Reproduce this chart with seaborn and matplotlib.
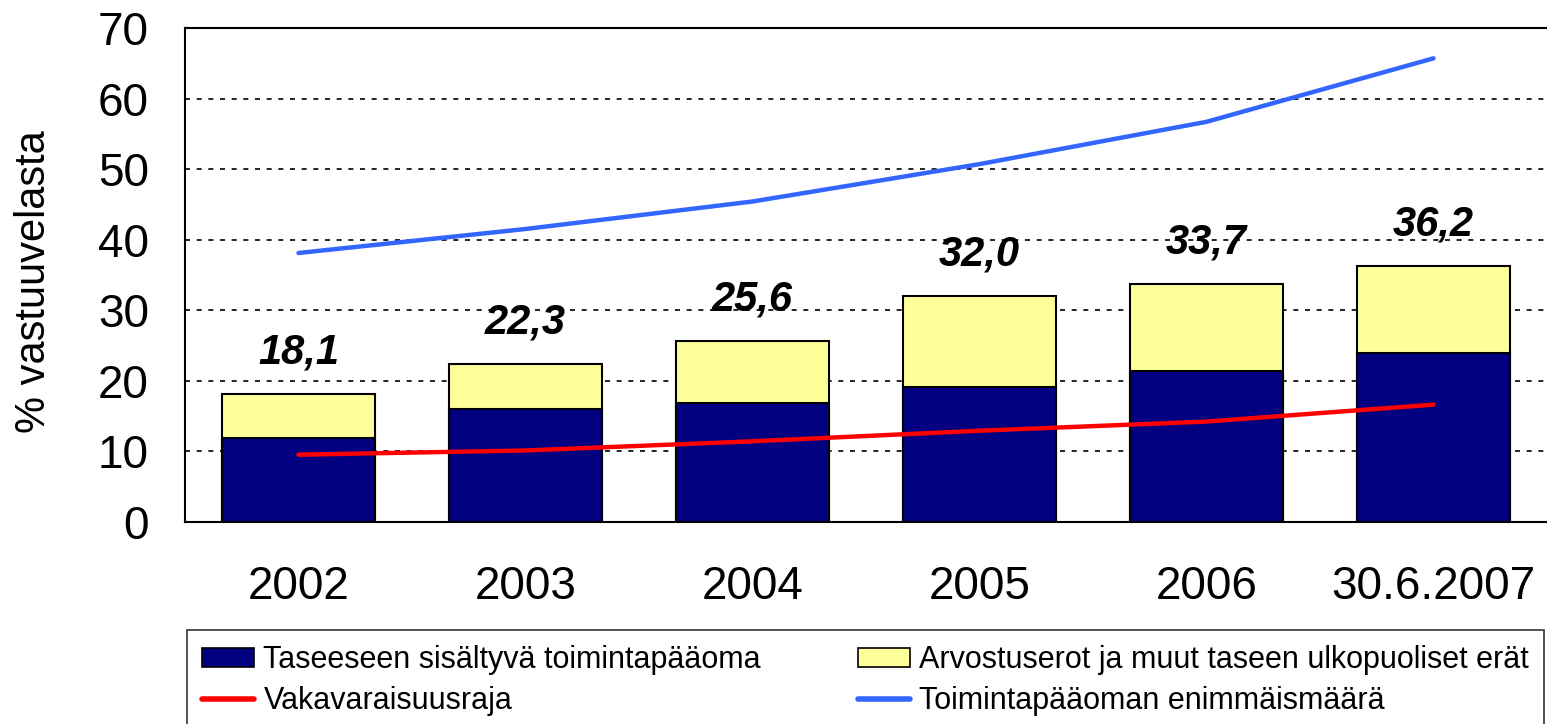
import numpy as np
import matplotlib
matplotlib.use("Agg")
import matplotlib.pyplot as plt
from matplotlib.patches import Patch
from matplotlib.lines import Line2D
import seaborn as sns

categories = ["2002", "2003", "2004", "2005", "2006", "30.6.2007"]
balance_capital = [11.9, 16.0, 16.9, 19.1, 21.3, 23.9]
total_capital = [18.1, 22.3, 25.6, 32.0, 33.7, 36.2]
total_labels = ["18,1", "22,3", "25,6", "32,0", "33,7", "36,2"]
solvency_limit = [9.5, 10.1, 11.4, 12.9, 14.2, 16.6]
capital_max = [38.1, 41.5, 45.4, 50.7, 56.7, 65.7]

legend_labels = [
    "Taseeseen sisältyvä toimintapääoma",
    "Arvostuserot ja muut taseen ulkopuoliset erät",
    "Vakavaraisuusraja",
    "Toimintapääoman enimmäismäärä",
]
y_ticks = [0, 10, 20, 30, 40, 50, 60, 70]

NAVY = "#000080"
YELLOW = "#FFFF99"
RED = "#FF0000"
BLUE = "#3366FF"

sns.set_theme(style="white")
plt.rcParams["font.family"] = ["Liberation Sans", "DejaVu Sans"]
plt.rcParams["text.color"] = "black"
plt.rcParams["axes.labelcolor"] = "black"
plt.rcParams["xtick.color"] = "black"
plt.rcParams["ytick.color"] = "black"

fig = plt.figure(figsize=(15.47, 7.24), dpi=100)
ax = fig.add_axes([185 / 1547, 1 - 521.7 / 724, 1 - 185 / 1547, (521.7 - 28) / 724])

x = np.arange(len(categories))
sns.barplot(x=categories, y=total_capital, color=YELLOW, saturation=1, width=0.67,
            edgecolor="black", linewidth=1.5, ax=ax, zorder=2)
sns.barplot(x=categories, y=balance_capital, color=NAVY, saturation=1, width=0.67,
            edgecolor="black", linewidth=1.5, ax=ax, zorder=3)
sns.lineplot(x=x, y=solvency_limit, color=RED, linewidth=3.2, ax=ax, zorder=4,
             solid_capstyle="round")
sns.lineplot(x=x, y=capital_max, color=BLUE, linewidth=3.2, ax=ax, zorder=4,
             solid_capstyle="round")

for xi, val, lab in zip(x, total_capital, total_labels):
    ax.annotate(lab, (xi, val), xytext=(0, 30), textcoords="offset points",
                ha="center", va="center", fontsize=30, fontweight="bold",
                fontstyle="italic", color="black", zorder=5)

ax.set_xlim(-0.5, len(categories) - 0.5)
ax.set_ylim(0, 70)
ax.set_yticks(y_ticks)
ax.set_yticklabels([str(t) for t in y_ticks])
ax.tick_params(axis="y", length=0, pad=26, labelsize=33, labelcolor="black")
ax.tick_params(axis="x", length=0, pad=31, labelsize=33, labelcolor="black")
ax.set_xlabel("")
ax.set_ylabel("% vastuuvelasta", fontsize=30, color="black")
ax.yaxis.set_label_coords((54 - 185) / 1362, 0.486)

ax.yaxis.grid(True, color="black", linestyle=(0, (3, 4)), linewidth=1.2)
ax.set_axisbelow(True)
for side in ["left", "bottom", "top"]:
    ax.spines[side].set_visible(True)
    ax.spines[side].set_color("black")
    ax.spines[side].set_linewidth(1.5)
ax.spines["right"].set_visible(False)

handles = [
    Patch(facecolor=NAVY, edgecolor="black", linewidth=1.2),
    Line2D([0], [0], color=RED, linewidth=4, solid_capstyle="round"),
    Patch(facecolor=YELLOW, edgecolor="black", linewidth=1.2),
    Line2D([0], [0], color=BLUE, linewidth=4, solid_capstyle="round"),
]
labels = [legend_labels[0], legend_labels[2], legend_labels[1], legend_labels[3]]
leg = fig.legend(handles, labels, ncol=2, loc="upper left",
                 bbox_to_anchor=(187 / 1547, 1 - 630 / 724 - 0.01, (1544 - 187) / 1547, 0.01),
                 mode="expand", fontsize=22, frameon=True, fancybox=False,
                 edgecolor="black", handlelength=1.7, handleheight=0.6,
                 handletextpad=0.3, labelspacing=0.35, borderpad=0.5,
                 borderaxespad=0)
leg.get_frame().set_linewidth(1.2)
for t in leg.get_texts():
    t.set_color("black")

fig.savefig("out.png", dpi=100)
